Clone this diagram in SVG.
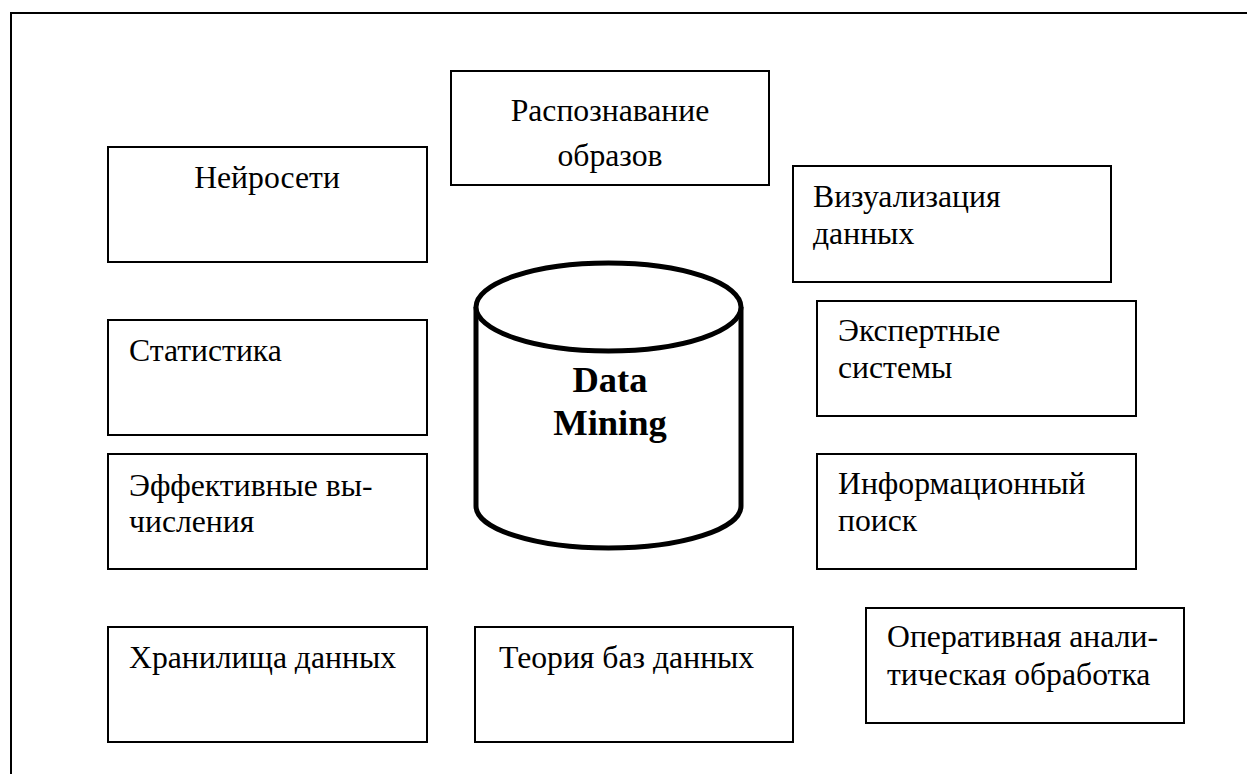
<svg xmlns="http://www.w3.org/2000/svg" width="1247" height="774" viewBox="0 0 1247 774">
<style>
.box{fill:#fff;stroke:#000;stroke-width:2}
.t{font-family:"Liberation Serif","Times New Roman",serif;font-size:31.7px;fill:#000}
.c{text-anchor:middle}
.b{font-family:"Liberation Serif","Times New Roman",serif;font-size:36.5px;font-weight:bold;fill:#000;text-anchor:middle}
.cyl{fill:#fff;stroke:#000;stroke-width:5}
</style>
<rect width="1247" height="774" fill="#fff"/>
<path d="M11,774 V13 H1247" fill="none" stroke="#000" stroke-width="2"/>
<g id="connectors"></g>
<g id="n-neuro"><rect class="box" x="108" y="147" width="319" height="115"/><text class="t c" x="267" y="188">Нейросети</text></g>
<g id="n-pattern"><rect class="box" x="451" y="71" width="318" height="114"/><text class="t c" x="610" y="121">Распознавание</text><text class="t c" x="610" y="166">образов</text></g>
<g id="n-visual"><rect class="box" x="793" y="166" width="318" height="116"/><text class="t" x="813" y="207">Визуализация</text><text class="t" x="813" y="244">данных</text></g>
<g id="n-expert"><rect class="box" x="817" y="301" width="319" height="115"/><text class="t" x="838" y="341">Экспертные</text><text class="t" x="838" y="378">системы</text></g>
<g id="n-stat"><rect class="box" x="108" y="320" width="319" height="115"/><text class="t" x="129" y="361">Статистика</text></g>
<g id="n-eff"><rect class="box" x="108" y="454" width="319" height="115"/><text class="t" x="129" y="496">Эффективные вы-</text><text class="t" x="129" y="532">числения</text></g>
<g id="n-info"><rect class="box" x="817" y="454" width="319" height="115"/><text class="t" x="838" y="494">Информационный</text><text class="t" x="838" y="531">поиск</text></g>
<g id="n-olap"><rect class="box" x="866" y="608" width="318" height="115"/><text class="t" x="887" y="647">Оперативная анали-</text><text class="t" x="887" y="685">тическая обработка</text></g>
<g id="n-dw"><rect class="box" x="108" y="627" width="319" height="115"/><text class="t" x="129" y="668">Хранилища данных</text></g>
<g id="n-db"><rect class="box" x="475" y="627" width="318" height="115"/><text class="t" x="499" y="668">Теория баз данных</text></g>
<g id="n-dm">
<path class="cyl" d="M476,307 V506 A132.5,42 0 0 0 741,506 V307 A132.5,44 0 0 0 476,307 Z"/>
<path class="cyl" fill="none" d="M476,307 A132.5,44 0 0 0 741,307"/>
<text class="b" x="610" y="392">Data</text><text class="b" x="610" y="435">Mining</text>
</g>
</svg>
